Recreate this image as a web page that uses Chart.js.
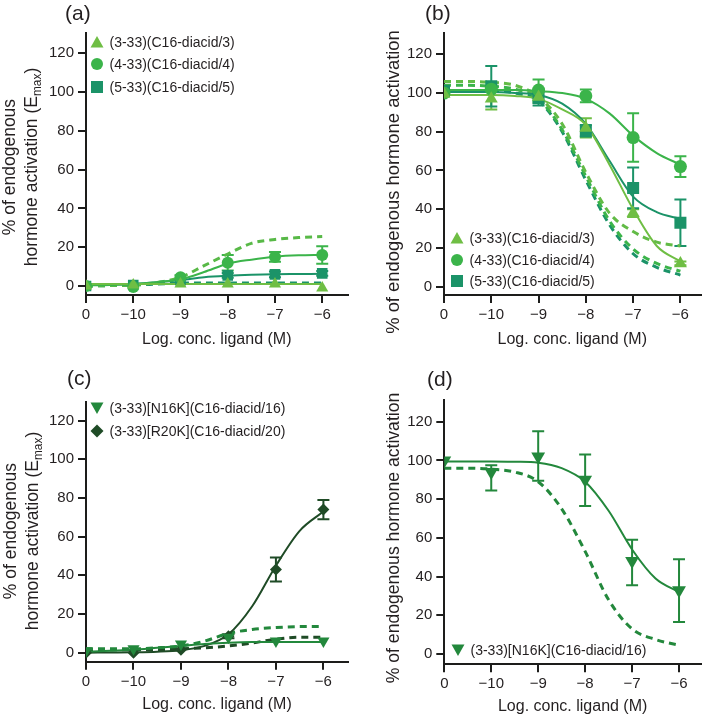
<!DOCTYPE html>
<html>
<head>
<meta charset="utf-8">
<script src="https://cdn.jsdelivr.net/npm/chart.js@4.4.1/dist/chart.umd.min.js"></script>
<style>
  body { margin: 0; background: #fff; }
  #fig { position: relative; width: 709px; height: 718px; overflow: hidden;
         font-family: "Liberation Sans", Arial, sans-serif; color: #231f20; }
  canvas { position: absolute; }
  .tag { position: absolute; font-size: 21px; line-height: 21px; }
  .ytitle { position: absolute; text-align: center; white-space: nowrap; transform: rotate(-90deg); }
  .ytitle sub { font-size: 0.68em; vertical-align: -0.3em; line-height: 0; }
  .legend { position: absolute; font-size: 14px; }
  .legend .row { display: flex; align-items: center; white-space: nowrap; }
  .legend svg { margin-right: 5.5px; flex: none; }
</style>
</head>
<body>
<div id="fig">
  <canvas id="ca" width="355" height="355" style="left:0;top:0"></canvas>
  <canvas id="cb" width="354" height="355" style="left:355px;top:0"></canvas>
  <canvas id="cc" width="355" height="363" style="left:0;top:355px"></canvas>
  <canvas id="cd" width="354" height="363" style="left:355px;top:355px"></canvas>

  <div class="tag" style="left:65px;top:2px">(a)</div>
  <div class="tag" style="left:425px;top:2px">(b)</div>
  <div class="tag" style="left:67px;top:367px">(c)</div>
  <div class="tag" style="left:427px;top:368px">(d)</div>

  <div class="ytitle" style="left:-130px;top:145px;width:300px;height:44px;line-height:22px;font-size:17.5px">% of endogenous<br>hormone activation (E<sub>max</sub>)</div>
  <div class="ytitle" style="left:233px;top:171px;width:320px;height:22px;line-height:22px;font-size:18.4px">% of endogenous hormone activation</div>
  <div class="ytitle" style="left:-129.5px;top:509px;width:300px;height:44px;line-height:22px;font-size:17.5px">% of endogenous<br>hormone activation (E<sub>max</sub>)</div>
  <div class="ytitle" style="left:233px;top:527px;width:320px;height:22px;line-height:22px;font-size:17.6px">% of endogenous hormone activation</div>

  <div class="legend" id="la" style="left:90px;top:31px"></div>
  <div class="legend" id="lb" style="left:450px;top:227px"></div>
  <div class="legend" id="lc" style="left:90px;top:397px"></div>
  <div class="legend" id="ld" style="left:451px;top:639px"></div>
</div>

<script>
// x positions: "0" (no ligand) is plotted at -11
const dose = [-11, -10, -9, -8, -7, -6];
const curveX = [-11, -10.5, -10, -9.5, -9, -8.5, -8, -7.5, -7, -6.5, -6];
const xTicks = [-11, -10, -9, -8, -7, -6];
const xTickLabels = ['0', '\u221210', '\u22129', '\u22128', '\u22127', '\u22126'];
const yTicks = [0, 20, 40, 60, 80, 100, 120];

// colours
const C_TRI = '#6fbe44';
const C_CIR = '#3bb44a';
const C_SQ = '#1b9368';
const C_N16 = '#23883c';
const C_R20 = '#1f4b26';
const AXIS = '#1d1d1b';
const TEXT = '#231f20';

// ---- (a) agonist mode ----
const aTri = [0, 0.5, 1, 1, 1, -1];
const aCir = [0, -0.5, 4.5, 12, 15, 16];
const aCirErr = [0, 0, 1, 4, 2.5, 4.5];
const aSq = [0, 0.5, 3, 5.5, 6, 6.5];
const aSqErr = [0, 0, 0.5, 1.2, 1.5, 1.2];
const aTriFit = [1, 1, 1, 1, 1, 1, 1, 1, 1, 1, 1];
const aCirFit = [0.3, 0.5, 1, 2, 3.5, 7.2, 11.5, 13.6, 15.1, 15.8, 16];
const aSqFit = [0.5, 0.7, 1, 2, 3, 4.5, 5.3, 5.8, 6.1, 6.2, 6.3];
const aRefLight = [0, 0.2, 0.5, 1.8, 4.5, 10.5, 16.5, 22, 24, 25, 25.5];
const aRefTeal = [0, 0.2, 0.5, 1, 1.5, 1.5, 1.5, 1.5, 1.5, 1.5, 1.5];

// ---- (b) antagonist mode ----
const bTri = [99.5, 97, 98, 82, 38, 12];
const bTriErr = [0, 5.5, 3, 5, 2, 1];
const bCir = [100, 102, 101.5, 98.5, 77, 62];
const bCirErr = [0, 0, 5.5, 3.3, 12.5, 5.3];
const bSq = [101, 103.5, 97.5, 80.5, 51, 33];
const bSqErr = [0, 10.5, 4, 3, 10.5, 12];
const bTriFit = [99, 99, 99, 98.5, 97, 91.5, 83.5, 63, 40, 21, 13];
const bCirFit = [101.5, 101.5, 101.5, 101.5, 101, 100, 97, 89.5, 78, 69, 63];
const bSqFit = [100.5, 100.5, 100.5, 100, 99, 94.5, 84, 65, 46.5, 38.5, 35];
const bRefLight = [106, 106, 105.5, 104, 98, 84, 59, 38, 28.5, 23, 21];
const bRefMid = [104, 104, 103.5, 102, 97, 81, 57, 34, 19.5, 12, 8];
const bRefTeal = [101, 101, 101, 100, 96, 80, 55, 32, 17, 10, 6];

// ---- (c) agonist mode ----
const cN16 = [1, 2, 4.5, 8, 6, 6];
const cR20 = [0, 0, 1.5, 8.5, 43, 74];
const cR20Err = [0, 0, 0.5, 1, 6.2, 5];
const cN16Fit = [0.5, 1, 1.5, 2.5, 3.5, 4.5, 5.2, 5.5, 5.5, 5.5, 5.5];
const cR20Fit = [0, 0.1, 0.2, 0.5, 1.3, 3.5, 9.5, 24, 45, 63, 73];
const cRefN16 = [2, 2, 2, 2.5, 3.5, 6, 10, 12, 13, 13.5, 13.5];
const cRefR20 = [1.5, 1.5, 1.5, 1.5, 2, 2.5, 3.5, 5, 7, 8, 8];

// ---- (d) antagonist mode ----
const dN16 = [100, 94, 102, 90, 48, 33];
const dN16Lo = [100, 84.5, 89.5, 76.5, 35.5, 16.5];
const dN16Hi = [100, 97.5, 115, 103, 59, 49];
const dN16Fit = [99.5, 99.5, 99.5, 99.3, 98.8, 96, 89, 74, 54, 39, 32];
const dRef = [96, 96, 95.5, 94, 89, 75, 53, 28, 13, 7.5, 4.5];

Chart.defaults.font.family = '"Liberation Sans", Arial, sans-serif';
Chart.defaults.color = TEXT;

const pts = (xs, ys) => xs.map((x, i) => ({ x, y: ys[i] }));
const plus = (v, e, s) => v.map((y, i) => y + s * e[i]);

function curve(label, ys, color, dashed) {
  return {
    label, data: pts(curveX, ys), showLine: true, borderColor: color,
    borderWidth: dashed ? 3 : 2, borderDash: dashed ? [7, 5] : [],
    pointRadius: 0, cubicInterpolationMode: 'monotone', order: dashed ? 3 : 2
  };
}

function marks(label, ys, color, style, radius, lo, hi, rot) {
  return {
    label, data: pts(dose, ys), showLine: false, pointStyle: style,
    pointRadius: radius, pointRotation: rot || 0, backgroundColor: color,
    borderColor: color, pointBorderWidth: 0, errLo: lo, errHi: hi, order: 0
  };
}

// vertical error bars with caps, taken from dataset.errLo / errHi
const errorBars = {
  id: 'errorBars',
  beforeDatasetsDraw(chart) {
    const { ctx, scales: { x, y } } = chart;
    chart.data.datasets.forEach(ds => {
      if (!ds.errLo) return;
      ctx.save();
      ctx.strokeStyle = ds.borderColor;
      ctx.lineWidth = 2;
      ds.data.forEach((p, j) => {
        const lo = ds.errLo[j], hi = ds.errHi[j];
        if (hi - lo < 1.6) return;
        const px = x.getPixelForValue(p.x);
        const y1 = y.getPixelForValue(lo), y2 = y.getPixelForValue(hi);
        ctx.beginPath();
        ctx.moveTo(px, y1); ctx.lineTo(px, y2);
        ctx.moveTo(px - 6, y1); ctx.lineTo(px + 6, y1);
        ctx.moveTo(px - 6, y2); ctx.lineTo(px + 6, y2);
        ctx.stroke();
      });
      ctx.restore();
    });
  }
};

function makeChart(id, box, datasets) {
  const canvas = document.getElementById(id);
  const W = canvas.width, H = canvas.height;
  const titleBottom = box.titleCy + 9.6;
  return new Chart(canvas, {
    type: 'scatter',
    data: { datasets },
    plugins: [errorBars],
    options: {
      responsive: false,
      animation: false,
      events: [],
      layout: { padding: { left: 0, top: box.top, right: W - box.right, bottom: H - titleBottom } },
      plugins: { legend: { display: false }, tooltip: { enabled: false } },
      scales: {
        x: {
          type: 'linear', min: -11, max: box.xMax,
          afterBuildTicks: s => { s.ticks = xTicks.map(v => ({ value: v })); },
          afterFit: s => { s.height = titleBottom - box.bottom; },
          ticks: {
            autoSkip: false, maxRotation: 0, padding: 3, color: TEXT, font: { size: 15 },
            callback: v => xTickLabels[xTicks.indexOf(v)]
          },
          grid: { drawOnChartArea: false, drawTicks: true, tickLength: 8, color: AXIS, lineWidth: 2 },
          border: { display: true, color: AXIS, width: 2 },
          title: { display: true, text: 'Log. conc. ligand (M)', color: TEXT, font: { size: 16 }, padding: { top: 0, bottom: 0 } }
        },
        y: {
          type: 'linear', min: box.yMin, max: box.yMax,
          afterBuildTicks: s => { s.ticks = yTicks.map(v => ({ value: v })); },
          afterFit: s => { s.width = box.left; },
          ticks: { padding: 4, color: TEXT, font: { size: 15 } },
          grid: { drawOnChartArea: false, drawTicks: true, tickLength: 8, color: AXIS, lineWidth: 2 },
          border: { display: true, color: AXIS, width: 2 }
        }
      }
    }
  });
}

makeChart('ca', { left: 86, right: 348, top: 33, bottom: 295, titleCy: 340, xMax: -5.465, yMin: -4.64, yMax: 130.5 }, [
  marks('(3-33)(C16-diacid/3)', aTri, C_TRI, 'triangle', 7),
  marks('(4-33)(C16-diacid/4)', aCir, C_CIR, 'circle', 6, plus(aCir, aCirErr, -1), plus(aCir, aCirErr, 1)),
  marks('(5-33)(C16-diacid/5)', aSq, C_SQ, 'rect', 7.5, plus(aSq, aSqErr, -1), plus(aSq, aSqErr, 1)),
  curve('fit 3', aTriFit, C_TRI, false),
  curve('fit 4', aCirFit, C_CIR, false),
  curve('fit 5', aSqFit, C_SQ, false),
  curve('ref light', aRefLight, '#58b947', true),
  curve('ref teal', aRefTeal, C_SQ, true)
]);

makeChart('cb', { left: 89, right: 348, top: 33, bottom: 295, titleCy: 340, xMax: -5.575, yMin: -4.3, yMax: 131 }, [
  marks('(3-33)(C16-diacid/3)', bTri, C_TRI, 'triangle', 7.5, plus(bTri, bTriErr, -1), plus(bTri, bTriErr, 1)),
  marks('(4-33)(C16-diacid/4)', bCir, C_CIR, 'circle', 6.5, plus(bCir, bCirErr, -1), plus(bCir, bCirErr, 1)),
  marks('(5-33)(C16-diacid/5)', bSq, C_SQ, 'rect', 8.5, plus(bSq, bSqErr, -1), plus(bSq, bSqErr, 1)),
  curve('fit 3', bTriFit, C_TRI, false),
  curve('fit 4', bCirFit, C_CIR, false),
  curve('fit 5', bSqFit, C_SQ, false),
  curve('ref light', bRefLight, '#62bb46', true),
  curve('ref mid', bRefMid, C_CIR, true),
  curve('ref teal', bRefTeal, C_SQ, true)
]);

makeChart('cc', { left: 86, right: 348.3, top: 46.7, bottom: 306.7, titleCy: 350, xMax: -5.482, yMin: -4.66, yMax: 129.8 }, [
  marks('(3-33)[N16K](C16-diacid/16)', cN16, C_N16, 'triangle', 7, undefined, undefined, 180),
  marks('(3-33)[R20K](C16-diacid/20)', cR20, C_R20, 'rectRot', 6, plus(cR20, cR20Err, -1), plus(cR20, cR20Err, 1)),
  curve('fit N16K', cN16Fit, C_N16, false),
  curve('fit R20K', cR20Fit, C_R20, false),
  curve('ref N16K', cRefN16, C_N16, true),
  curve('ref R20K', cRefR20, C_R20, true)
]);

makeChart('cd', { left: 89.3, right: 350, top: 45, bottom: 309.3, titleCy: 351.7, xMax: -5.532, yMin: -5.3, yMax: 131.2 }, [
  marks('(3-33)[N16K](C16-diacid/16)', dN16, C_N16, 'triangle', 8, dN16Lo, dN16Hi, 180),
  curve('fit N16K', dN16Fit, C_N16, false),
  curve('ref N16K', dRef, C_N16, true)
]);

// legends (HTML, text kept as text)
const shapes = {
  up: '<polygon points="7,1 13.5,12.5 0.5,12.5"/>',
  down: '<polygon points="0.5,1.5 13.5,1.5 7,13"/>',
  circle: '<circle cx="7" cy="7" r="6"/>',
  square: '<rect x="1" y="1" width="12" height="12"/>',
  diamond: '<polygon points="7,0.5 13.5,7 7,13.5 0.5,7"/>'
};
function legend(id, rowH, items) {
  document.getElementById(id).innerHTML = items.map(([shape, color, text]) =>
    `<div class="row" style="height:${rowH}px"><svg width="14" height="14" viewBox="0 0 14 14" fill="${color}">${shapes[shape]}</svg>${text}</div>`
  ).join('');
}
legend('la', 22.3, [['up', C_TRI, '(3-33)(C16-diacid/3)'], ['circle', C_CIR, '(4-33)(C16-diacid/4)'], ['square', C_SQ, '(5-33)(C16-diacid/5)']]);
legend('lb', 21.7, [['up', C_TRI, '(3-33)(C16-diacid/3)'], ['circle', C_CIR, '(4-33)(C16-diacid/4)'], ['square', C_SQ, '(5-33)(C16-diacid/5)']]);
legend('lc', 22.7, [['down', C_N16, '(3-33)[N16K](C16-diacid/16)'], ['diamond', C_R20, '(3-33)[R20K](C16-diacid/20)']]);
legend('ld', 22, [['down', C_N16, '(3-33)[N16K](C16-diacid/16)']]);
</script>
</body>
</html>
